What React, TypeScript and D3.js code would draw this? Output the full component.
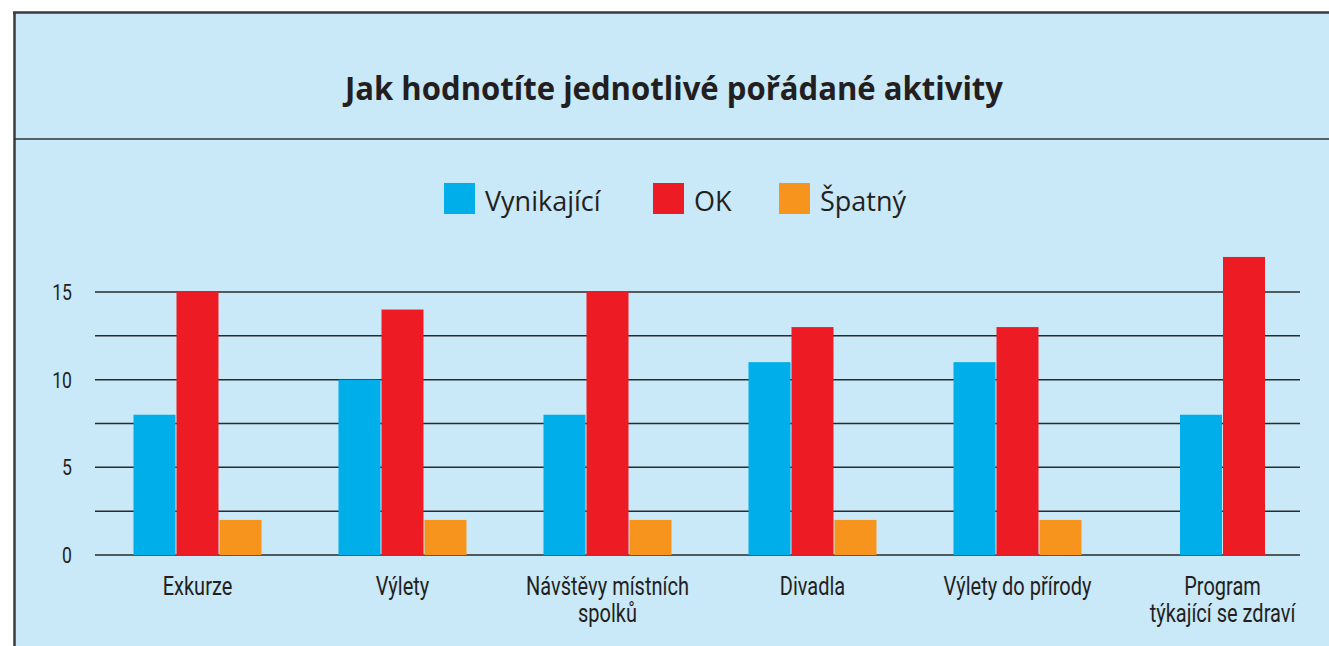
import { useEffect, useRef } from 'react';
import * as d3 from 'd3';

const categories = [
  ['Exkurze'],
  ['Výlety'],
  ['Návštěvy místních', 'spolků'],
  ['Divadla'],
  ['Výlety do přírody'],
  ['Program', 'týkající se zdraví'],
];
const seriesNames = ['Vynikající', 'OK', 'Špatný'];
const vynikajici = [8, 10, 8, 11, 11, 8];
const ok = [15, 14, 15, 13, 13, 17];
const spatny = [2, 2, 2, 2, 2, 0];
const yTicks = [0, 5, 10, 15];
const gridTicks = [0, 2.5, 5, 7.5, 10, 12.5, 15];

const colors = ['#00aeea', '#ed1c24', '#f7941d'];
const WIDTH = 1329;
const HEIGHT = 646;
// úzké písmo nahrazené Robotem zúženým přes scale
const narrow = "Roboto, sans-serif";
const squeeze = 0.8;
const regular = "'Open Sans', 'Noto Sans', sans-serif";

export default function App() {
  const svgRef = useRef<SVGSVGElement>(null);

  useEffect(() => {
    if (!svgRef.current) return;
    const svg = d3.select(svgRef.current);
    svg.selectAll('*').remove();

    // pozadí a rámeček
    svg.append('rect')
      .attr('x', 14).attr('y', 12)
      .attr('width', WIDTH - 14).attr('height', HEIGHT - 12)
      .attr('fill', '#c9e8f8');
    svg.append('line')
      .attr('x1', 13).attr('x2', WIDTH).attr('y1', 12.5).attr('y2', 12.5)
      .attr('stroke', '#3b3b3b').attr('stroke-width', 2.5);
    svg.append('line')
      .attr('x1', 14.5).attr('x2', 14.5).attr('y1', 12).attr('y2', HEIGHT)
      .attr('stroke', '#3b3b3b').attr('stroke-width', 2.5);
    svg.append('line')
      .attr('x1', 14).attr('x2', WIDTH).attr('y1', 139).attr('y2', 139)
      .attr('stroke', '#333').attr('stroke-width', 1.5);

    // nadpis
    svg.append('text')
      .attr('x', 674).attr('y', 100)
      .attr('text-anchor', 'middle')
      .attr('font-family', regular)
      .attr('font-weight', 700)
      .attr('font-size', 32)
      .attr('fill', '#231f20')
      .attr('textLength', 658)
      .attr('lengthAdjust', 'spacingAndGlyphs')
      .text('Jak hodnotíte jednotlivé pořádané aktivity');

    // legenda
    const legendX = [444, 653, 779];
    const legend = svg.append('g')
      .selectAll('g')
      .data(seriesNames)
      .join('g')
      .attr('transform', (_, i) => `translate(${legendX[i]},183)`);
    legend.append('rect')
      .attr('width', 31).attr('height', 31)
      .attr('fill', (_, i) => colors[i]);
    legend.append('text')
      .attr('x', 41).attr('y', 28)
      .attr('font-family', regular)
      .attr('font-size', 27)
      .attr('fill', '#231f20')
      .text(d => d);

    const y = d3.scaleLinear().domain([0, 17.5]).range([555, 248.2]);
    const x = d3.scaleBand<number>()
      .domain(d3.range(categories.length))
      .range([95, 1325]);

    // mřížka
    svg.append('g')
      .selectAll('line')
      .data(gridTicks)
      .join('line')
      .attr('x1', 95).attr('x2', 1300)
      .attr('y1', d => y(d)).attr('y2', d => y(d))
      .attr('stroke', '#2b2b2b')
      .attr('stroke-width', 1.5);

    svg.append('g')
      .selectAll('text')
      .data(yTicks)
      .join('text')
      .attr('transform', d => `translate(72,${y(d)}) scale(${squeeze},1)`)
      .attr('dy', '0.36em')
      .attr('text-anchor', 'end')
      .attr('font-family', narrow)
      .attr('font-size', 22)
      .attr('fill', '#231f20')
      .text(d => d);

    // sloupce
    const barW = 42;
    const gap = 1;
    const groups = categories.map((_, i) => {
      const vals = [vynikajici[i], ok[i], spatny[i]]
        .map((v, s) => ({ v, s }))
        .filter(d => d.v > 0);
      const total = vals.length * barW + (vals.length - 1) * gap;
      const cx = x(i)! + x.bandwidth() / 2;
      return vals.map((d, k) => ({
        ...d,
        x: cx - total / 2 + k * (barW + gap),
      }));
    }).flat();

    svg.append('g')
      .selectAll('rect')
      .data(groups)
      .join('rect')
      .attr('x', d => d.x)
      .attr('y', d => y(d.v))
      .attr('width', barW)
      .attr('height', d => y(0) - y(d.v))
      .attr('fill', d => colors[d.s]);

    // popisky kategorií
    const labels = svg.append('g')
      .selectAll('text')
      .data(categories)
      .join('text')
      .attr('text-anchor', 'middle')
      .attr('font-family', narrow)
      .attr('font-size', 25)
      .attr('fill', '#231f20')
      .attr('transform', (_, i) => `translate(${x(i)! + x.bandwidth() / 2},595) scale(${squeeze},1)`);
    labels.selectAll('tspan')
      .data(d => d)
      .join('tspan')
      .attr('x', 0)
      .attr('y', (_, k) => k * 27)
      .text(d => d);
  }, []);

  return (
    <svg
      ref={svgRef}
      width={WIDTH}
      height={HEIGHT}
      style={{ position: 'absolute', left: 0, top: 0, background: '#fff' }}
    />
  );
}
